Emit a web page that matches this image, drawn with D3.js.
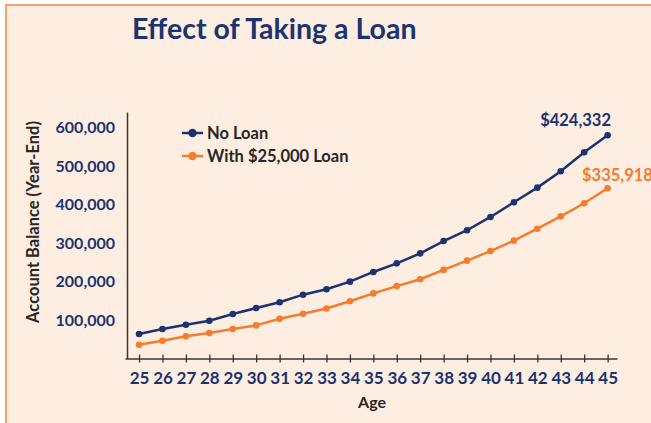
<!DOCTYPE html>
<html>
<head>
<meta charset="utf-8">
<script src="https://cdn.jsdelivr.net/npm/d3@7"></script>
<style>
  body { margin: 0; background: #fff; }
  svg { display: block; font-family: Lato, "Open Sans", sans-serif; }
</style>
</head>
<body>
<div id="chart"></div>
<script>
// chart data
const ages = [25, 26, 27, 28, 29, 30, 31, 32, 33, 34, 35, 36, 37, 38, 39, 40, 41, 42, 43, 44, 45];
const noLoan = [63600, 76600, 87800, 98000, 115600, 131000, 146000, 165700, 179700, 199500, 224700, 247000, 273000, 305000, 333000, 367500, 405700, 443600, 486000, 535600, 579700];
const withLoan = [35800, 46000, 57600, 66000, 76600, 86000, 103000, 116000, 130000, 148600, 169000, 188000, 205700, 230000, 254000, 279000, 306000, 337000, 369000, 403000, 442000];
const yTicks = [100000, 200000, 300000, 400000, 500000, 600000];
const seriesNames = ["No Loan", "With $25,000 Loan"];
const endLabels = ["$424,332", "$335,918"];

const navy = "#1b3370";
const orange = "#f47c2c";
const dark = "#2a2626";

const svg = d3.select("#chart").append("svg")
  .attr("width", 651)
  .attr("height", 423);

// panel
svg.append("rect")
  .attr("x", 6).attr("y", 5)
  .attr("width", 700).attr("height", 500)
  .attr("fill", "#fdeee1")
  .attr("stroke", "#f7a068")
  .attr("stroke-width", 2);

svg.append("text")
  .attr("x", 132).attr("y", 39)
  .attr("fill", navy)
  .attr("font-size", 28.5)
  .attr("font-weight", "bold")
  .text("Effect of Taking a Loan");

const x = d3.scaleLinear().domain([24.4, 45.4]).range([125, 617]);
const y = d3.scaleLinear().domain([0, 640000]).range([358.5, 112]);

// x axis
const xAxis = svg.append("g")
  .attr("transform", "translate(0,358.5)")
  .call(d3.axisBottom(x).tickValues(ages).tickSizeOuter(0).tickFormat(d3.format("d")));
xAxis.select(".domain").attr("stroke", "#3a3636").attr("stroke-width", 1.5);
xAxis.selectAll(".tick line").attr("y1", -4).attr("y2", 4).attr("stroke", "#3a3636").attr("stroke-width", 1.3);
xAxis.selectAll(".tick text")
  .attr("y", 13).attr("dy", "0.71em")
  .attr("fill", navy).attr("font-size", 17).attr("font-weight", "bold")
  .attr("font-family", "Lato, sans-serif");

// y axis
const yAxis = svg.append("g")
  .attr("transform", "translate(127,0)")
  .call(d3.axisLeft(y).tickValues(yTicks).tickSize(0).tickPadding(12).tickFormat(d3.format(",")));
yAxis.select(".domain").attr("stroke", "#3a3636").attr("stroke-width", 1.5);
yAxis.selectAll(".tick text")
  .attr("fill", navy).attr("font-size", 16).attr("font-weight", "bold")
  .attr("font-family", "Lato, sans-serif");

svg.append("text")
  .attr("transform", "translate(39,222) rotate(-90)")
  .attr("text-anchor", "middle")
  .attr("fill", dark)
  .attr("font-size", 16.5)
  .attr("font-weight", "bold")
  .text("Account Balance (Year-End)");

svg.append("text")
  .attr("x", 372).attr("y", 408)
  .attr("text-anchor", "middle")
  .attr("fill", dark)
  .attr("font-size", 16)
  .attr("font-weight", "bold")
  .text("Age");

// series
const series = [
  { name: seriesNames[0], values: noLoan, color: navy, label: endLabels[0] },
  { name: seriesNames[1], values: withLoan, color: orange, label: endLabels[1] }
];

const line = d3.line()
  .x((d, i) => x(ages[i]))
  .y(d => y(d));

series.forEach(s => {
  svg.append("path")
    .datum(s.values)
    .attr("fill", "none")
    .attr("stroke", s.color)
    .attr("stroke-width", 2.5)
    .attr("d", line);

  svg.selectAll(null)
    .data(s.values)
    .enter().append("circle")
    .attr("cx", (d, i) => x(ages[i]))
    .attr("cy", d => y(d))
    .attr("r", 3.3)
    .attr("fill", s.color);
});

// end labels
svg.append("text")
  .attr("x", 611).attr("y", 126)
  .attr("text-anchor", "end")
  .attr("fill", navy).attr("font-size", 16.5).attr("font-weight", "bold")
  .text(endLabels[0]);
svg.append("text")
  .attr("x", 582).attr("y", 181)
  .attr("fill", orange).attr("font-size", 16.5).attr("font-weight", "bold")
  .text(endLabels[1]);

// legend
const legend = svg.append("g").attr("transform", "translate(182,133)");
series.forEach((s, i) => {
  const g = legend.append("g").attr("transform", `translate(0,${i * 23})`);
  g.append("line").attr("x1", 0).attr("x2", 21).attr("stroke", s.color).attr("stroke-width", 2.5);
  g.append("circle").attr("cx", 10.5).attr("r", 4.2).attr("fill", s.color);
  g.append("text")
    .attr("x", 25).attr("dy", "0.35em")
    .attr("fill", dark).attr("font-size", 16.5).attr("font-weight", "bold")
    .text(s.name);
});
</script>
</body>
</html>
